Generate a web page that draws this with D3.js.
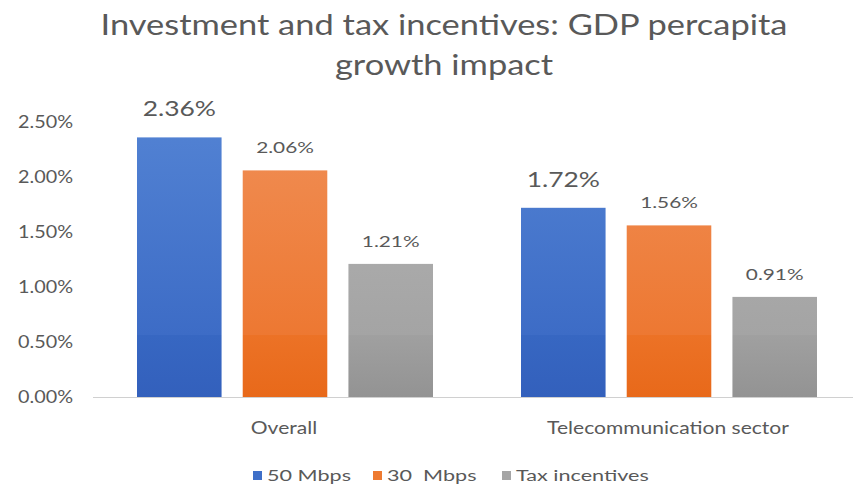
<!DOCTYPE html>
<html>
<head>
<meta charset="utf-8">
<script src="https://cdn.jsdelivr.net/npm/d3@7"></script>
<style>
  html, body { margin: 0; padding: 0; background: #fff; }
  svg { display: block; font-family: Lato, "Open Sans", sans-serif; }
</style>
</head>
<body>
<svg id="chart" width="853" height="489"></svg>
<script>
// Chart data
const categories = ["Overall", "Telecommunication sector"];
const seriesNames = ["50 Mbps", "30  Mbps", "Tax incentives"];
const values50 = [2.36, 1.72];
const values30 = [2.06, 1.56];
const valuesTax = [1.21, 0.91];
const yTicks = [0, 0.5, 1.0, 1.5, 2.0, 2.5];
const titleLines = ["Investment and tax incentives: GDP percapita", "growth impact"];

const seriesValues = [values50, values30, valuesTax];
const colors = [
  { top: "#5282d3", mid: "#3d6cc6", low: "#3767c2", bottom: "#3360bc", key: "#3f6fc8" },
  { top: "#f08e55", mid: "#ed7832", low: "#ec7226", bottom: "#e8691a", key: "#ee7a30" },
  { top: "#b4b4b4", mid: "#a4a4a4", low: "#a0a0a0", bottom: "#939393", key: "#a5a5a5" }
];
const textColor = "#595959";

const svg = d3.select("#chart");
const W = 853, H = 489;
const plot = { left: 93, right: 861, top: 122, bottom: 397 };

const x0 = d3.scaleBand().domain(categories).range([plot.left, plot.right]).paddingInner(0).paddingOuter(0);
const x1 = d3.scaleBand().domain(d3.range(seriesNames.length)).range([44, x0.bandwidth() - 44]).paddingInner(0.2).paddingOuter(0);
const y = d3.scaleLinear().domain([0, 2.5]).range([plot.bottom, plot.top]);

// Text helper: places text at (x, y) with a horizontal stretch factor
function stretched(sel, sx) {
  return sel.attr("transform", function() {
    const t = d3.select(this);
    const tx = +t.attr("data-x"), ty = +t.attr("data-y");
    return `translate(${tx},${ty}) scale(${sx},1)`;
  });
}

// Vertical gradients shared across bars (same colour at the same height)
const defs = svg.append("defs");
const seam = 335;
colors.forEach((c, i) => {
  const g = defs.append("linearGradient").attr("id", "grad" + i)
    .attr("gradientUnits", "userSpaceOnUse")
    .attr("x1", 0).attr("y1", plot.top).attr("x2", 0).attr("y2", plot.bottom);
  const s = (seam - plot.top) / (plot.bottom - plot.top);
  g.append("stop").attr("offset", 0).attr("stop-color", c.top);
  g.append("stop").attr("offset", s).attr("stop-color", c.mid);
  g.append("stop").attr("offset", s).attr("stop-color", c.low);
  g.append("stop").attr("offset", 1).attr("stop-color", c.bottom);
});

// Title
svg.append("g").selectAll("text").data(titleLines).join("text")
  .attr("data-x", 444).attr("data-y", (d, i) => 35 + i * 40)
  .attr("text-anchor", "middle")
  .attr("font-size", 28)
  .attr("fill", textColor)
  .text(d => d)
  .call(stretched, 1.23);

// Y axis labels
const yAxis = d3.axisLeft(y).tickValues(yTicks).tickFormat(d => d.toFixed(2) + "%").tickSize(0).tickPadding(0);
const yg = svg.append("g").attr("transform", `translate(73,0)`).call(yAxis);
yg.select(".domain").remove();
yg.selectAll("text")
  .attr("font-size", 16.5).attr("fill", textColor).attr("font-family", "Lato, sans-serif")
  .attr("dy", "0.36em")
  .attr("transform", "scale(1.2,1)").attr("x", 0);

// Bars
const groups = svg.append("g").selectAll("g").data(categories).join("g")
  .attr("transform", d => `translate(${x0(d)},0)`);

groups.each(function(cat, ci) {
  const g = d3.select(this);
  seriesValues.forEach((vals, si) => {
    const v = vals[ci];
    g.append("rect")
      .attr("x", x1(si)).attr("y", y(v))
      .attr("width", x1.bandwidth()).attr("height", y(0) - y(v))
      .attr("fill", `url(#grad${si})`);
    const big = si === 0;
    g.append("text")
      .attr("data-x", x1(si) + x1.bandwidth() / 2)
      .attr("data-y", y(v) - (big ? 21 : 17))
      .attr("text-anchor", "middle")
      .attr("font-size", big ? 22 : 16)
      .attr("fill", textColor)
      .text(v.toFixed(2) + "%")
      .call(stretched, big ? 1.2 : 1.3);
  });
});

// Baseline
svg.append("line")
  .attr("x1", plot.left).attr("x2", W).attr("y1", y(0) + 0.5).attr("y2", y(0) + 0.5)
  .attr("stroke", "#d0d0d0").attr("stroke-width", 1);

// Category labels
svg.append("g").selectAll("text").data(categories).join("text")
  .attr("data-x", d => x0(d) + x0.bandwidth() / 2 - 1)
  .attr("data-y", 434)
  .attr("text-anchor", "middle")
  .attr("font-size", 18).attr("fill", textColor)
  .text(d => d)
  .call(stretched, 1.17);

// Legend
const legendX = [253, 373, 502];
const leg = svg.append("g").selectAll("g").data(seriesNames).join("g")
  .attr("transform", (d, i) => `translate(${legendX[i]},476)`);
leg.append("rect").attr("x", 0).attr("y", -5).attr("width", 9).attr("height", 9)
  .attr("fill", (d, i) => colors[i].key);
leg.append("text")
  .attr("transform", "translate(14,5) scale(1.35,1)")
  .attr("font-size", 16).attr("fill", textColor)
  .style("white-space", "pre")
  .text(d => d);
</script>
</body>
</html>
